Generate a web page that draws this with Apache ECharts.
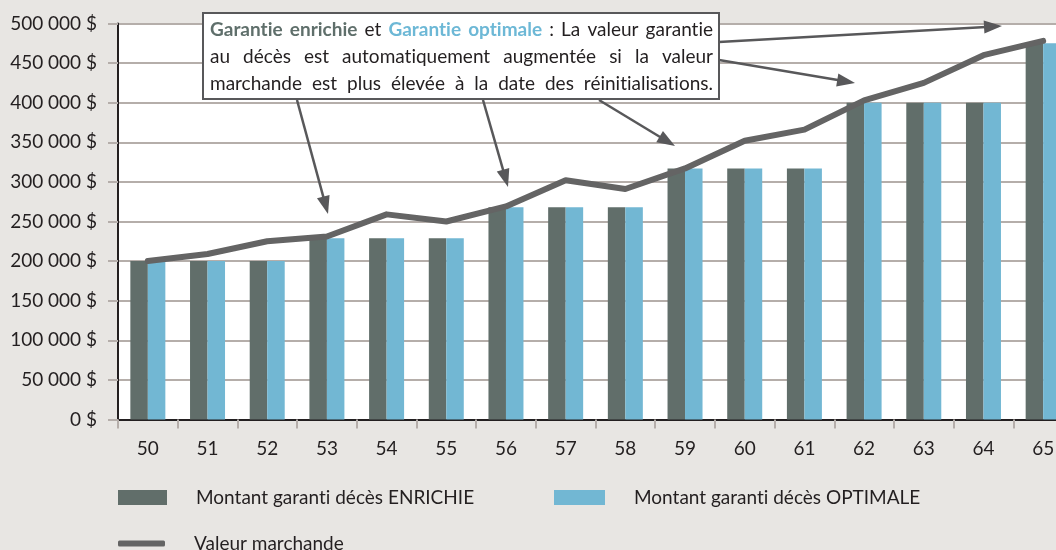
<!DOCTYPE html>
<html>
<head>
<meta charset="utf-8">
<script src="https://cdn.jsdelivr.net/npm/echarts@6/dist/echarts.min.js"></script>
<style>
html, body { margin: 0; padding: 0; background: #e8e6e3; }
#chart { width: 1056px; height: 550px; }
</style>
</head>
<body>
<div id="chart"></div>
<script>
// ages (x axis)
var ages = ['50', '51', '52', '53', '54', '55', '56', '57', '58', '59', '60', '61', '62', '63', '64', '65'];
// montant garanti décès
var enrichie = [200000, 200000, 200000, 229000, 229000, 229000, 268000, 268000, 268000, 317000, 317000, 317000, 400000, 400000, 400000, 475000];
var optimale = [200000, 200000, 200000, 229000, 229000, 229000, 268000, 268000, 268000, 317000, 317000, 317000, 400000, 400000, 400000, 475000];
// valeur marchande
var marchande = [200000, 209000, 225000, 231000, 259000, 250000, 269000, 302000, 291000, 317000, 352000, 366000, 403000, 425000, 460000, 478000];

var seriesNames = ['Montant garanti décès ENRICHIE', 'Montant garanti décès OPTIMALE', 'Valeur marchande'];

var dark = '#616e6a';
var blue = '#72b7d3';
var gray = '#646464';
var ink = '#231f20';
var font = 'Lato';

// annotation text, one array per line: [text, color, weight]
var noteLines = [
    [['Garantie enrichie', '#5f6f6b', 'bold'], ['et', ink, 'normal'], ['Garantie optimale', '#6db8d6', 'bold'], [': La valeur garantie', ink, 'normal']],
    [['au décès est automatiquement augmentée si la valeur', ink, 'normal']],
    [['marchande est plus élevée à la date des réinitialisations.', ink, 'normal']]
];

// Lato draws "ti" as a ligature, break it with a zero width non-joiner
function noLig(s) {
    return s.replace(/t(?=i)/g, 't\u200C');
}

var myChart = echarts.init(document.getElementById('chart'));

function money(v) {
    return String(v).replace(/\B(?=(\d{3})+(?!\d))/g, ' ') + ' $';
}

// justified text lines inside the box
var ctx = document.createElement('canvas').getContext('2d');
var noteGraphics = [];
var noteLeft = 210, noteRight = 713, noteSize = 19;
var noteY = [30, 57, 84];
noteLines.forEach(function (line, li) {
    var words = [];
    line.forEach(function (seg) {
        seg[0].split(' ').forEach(function (w) {
            words.push({ t: noLig(w), c: seg[1], fw: seg[2] });
        });
    });
    var total = 0;
    words.forEach(function (w) {
        w.f = (w.fw === 'bold' ? 'bold ' : '') + noteSize + 'px ' + font;
        ctx.font = w.f;
        w.w = ctx.measureText(w.t).width;
        total += w.w;
    });
    var gap = (noteRight - noteLeft - total) / (words.length - 1);
    var x = noteLeft;
    words.forEach(function (w) {
        noteGraphics.push({
            type: 'text',
            x: x,
            y: noteY[li],
            z: 110,
            style: { text: w.t, fill: w.c, font: w.f, verticalAlign: 'middle', textVerticalAlign: 'middle' }
        });
        x += w.w + gap;
    });
});

// arrows from the box
var arrows = [[297, 100, 328, 214], [483, 100, 508, 187], [599, 100, 675, 146], [719, 42, 1002, 26], [719, 60, 855, 83]];
var arrowGraphics = [];
arrows.forEach(function (a) {
    var dx = a[2] - a[0], dy = a[3] - a[1];
    var len = Math.sqrt(dx * dx + dy * dy);
    var ux = dx / len, uy = dy / len;
    var hl = 18, hw = 6.5;
    var bx = a[2] - ux * hl, by = a[3] - uy * hl;
    arrowGraphics.push({
        type: 'line', z: 105,
        shape: { x1: a[0], y1: a[1], x2: bx + ux * 2, y2: by + uy * 2 },
        style: { stroke: '#58585a', lineWidth: 2.5 }
    });
    arrowGraphics.push({
        type: 'polygon', z: 105,
        shape: { points: [[a[2], a[3]], [bx - uy * hw, by + ux * hw], [bx + uy * hw, by - ux * hw]] },
        style: { fill: '#58585a' }
    });
});

var legendText = { color: ink, fontFamily: font, fontSize: 19, padding: [0, 0, 0, 24] };

option = {
    backgroundColor: '#e8e6e3',
    animation: false,
    textStyle: { fontFamily: font },
    grid: {
        left: 118,
        width: 955,
        top: 23.5,
        bottom: 130.5,
        outerBoundsMode: 'none',
        containLabel: false,
        show: true,
        backgroundColor: '#fff',
        borderWidth: 0
    },
    legend: [{
        data: [seriesNames[0]],
        left: 118, top: 488, padding: 0,
        icon: 'rect', itemWidth: 49, itemHeight: 15,
        formatter: noLig,
        textStyle: legendText
    }, {
        data: [seriesNames[1]],
        left: 554, top: 488, padding: 0,
        icon: 'rect', itemWidth: 51, itemHeight: 15,
        formatter: noLig,
        textStyle: legendText
    }, {
        data: [seriesNames[2]],
        left: 118, top: 534, padding: 0,
        icon: 'roundRect', itemWidth: 47, itemHeight: 6,
        textStyle: legendText
    }],
    xAxis: {
        type: 'category',
        data: ages,
        axisLine: { lineStyle: { color: ink, width: 2 } },
        axisTick: { show: true, length: 9, lineStyle: { color: '#b5aeaa', width: 2 } },
        axisLabel: { color: ink, fontSize: 19, margin: 20 }
    },
    yAxis: {
        type: 'value',
        min: 0,
        max: 500000,
        interval: 50000,
        axisLine: { show: true, lineStyle: { color: ink, width: 2 } },
        axisTick: { show: true, length: 10, lineStyle: { color: '#b5aeaa', width: 2 } },
        splitLine: { lineStyle: { color: '#b5aeaa', width: 2 } },
        axisLabel: { color: ink, fontSize: 19, margin: 21, formatter: money }
    },
    series: [{
        name: seriesNames[0],
        type: 'bar',
        data: enrichie,
        barWidth: 17.5,
        barGap: '0%',
        itemStyle: { color: dark }
    }, {
        name: seriesNames[1],
        type: 'bar',
        data: optimale,
        barWidth: 17.5,
        itemStyle: { color: blue }
    }, {
        name: seriesNames[2],
        type: 'line',
        data: marchande,
        symbol: 'none',
        z: 5,
        color: gray,
        lineStyle: { color: gray, width: 6, cap: 'round', join: 'round' }
    }],
    graphic: [{
        type: 'rect', z: 100,
        shape: { x: 203, y: 13, width: 516, height: 86 },
        style: { fill: '#fff', stroke: '#58585a', lineWidth: 2 }
    }].concat(arrowGraphics, noteGraphics)
};

myChart.setOption(option);
</script>
</body>
</html>
